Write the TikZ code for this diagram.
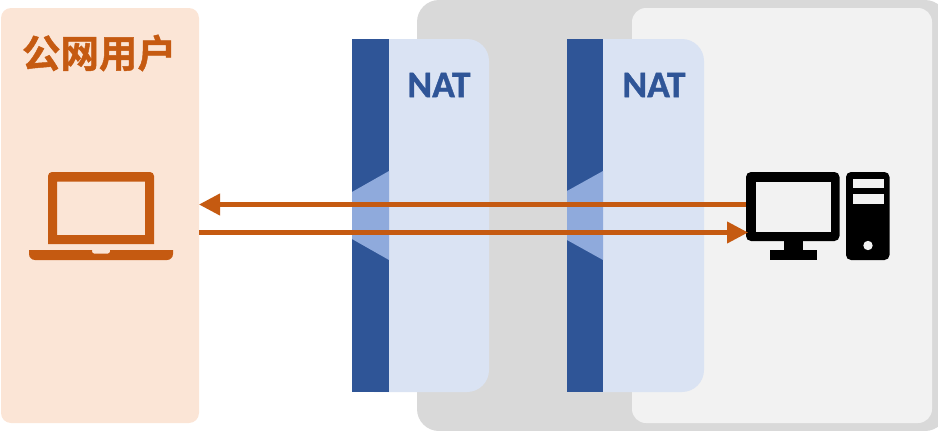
\documentclass[tikz,border=0pt]{standalone}
\usepackage{fontspec}
\setmainfont{Carlito}
\newfontfamily\cjkbold[FakeBold=1.2]{Noto Sans CJK SC Bold}
\newfontfamily\natfont[FakeBold=1]{Carlito Bold}
\usetikzlibrary{arrows.meta}
\definecolor{orangeC}{HTML}{C55A11}
\definecolor{peachC}{HTML}{FBE5D6}
\definecolor{darkC}{HTML}{2F5597}
\definecolor{natC}{HTML}{DAE3F3}
\definecolor{wedgeC}{HTML}{8FAADC}
\definecolor{grayC}{HTML}{D9D9D9}
\definecolor{lightC}{HTML}{F2F2F2}
\tikzset{
  panel/.style={anchor=north west,inner sep=0pt,outer sep=0pt,draw=none},
  natpanel/.style={panel,fill=natC,rounded corners=22pt,minimum width=137pt,minimum height=353pt},
  natbar/.style={panel,fill=darkC,minimum height=353pt},
  nattext/.style={text=darkC,font=\natfont\fontsize{37.5}{37.5}\selectfont,inner sep=0pt},
  flow/.style={draw=orangeC,line width=4.2pt,-{Triangle[length=21pt,width=21pt]}},
}
\begin{document}
\begin{tikzpicture}[x=1pt,y=-1pt]
\useasboundingbox (0,0) rectangle (938,431);
% panels
\node[panel,fill=grayC,rounded corners=22pt,minimum width=530pt,minimum height=431pt] (inner) at (417,0) {};
\fill[white] (938,0) rectangle (947,431);
\node[panel,fill=lightC,rounded corners=14pt,minimum width=300pt,minimum height=415pt] (host) at (632,8) {};
\node[panel,fill=peachC,rounded corners=10pt,minimum width=198pt,minimum height=415pt] (user) at (1,8) {};
\node[text=orangeC,font=\cjkbold\fontsize{38.5}{38.5}\selectfont,inner sep=0pt] (usertitle) at (99,53) {公网用户};
% first NAT
\node[natpanel] (nat1) at (352,39) {};
\node[natbar,minimum width=37pt] (bar1) at (352,39) {};
\fill[wedgeC] (352,192) -- (389,171) -- (389,260) -- (352,239) -- cycle;
\node[nattext] (nat1label) at (439,85) {NAT};
% second NAT
\node[natpanel] (nat2) at (567,39) {};
\node[natbar,minimum width=36pt] (bar2) at (567,39) {};
\fill[wedgeC] (567,191) -- (603,171) -- (603,260) -- (567,240) -- cycle;
\node[nattext] (nat2label) at (654,85) {NAT};
% laptop
\fill[orangeC,even odd rule]
  (48,244) -- (48,176) arc[start angle=180,end angle=270,radius=4] -- (150,172) arc[start angle=270,end angle=360,radius=4] -- (154,244) -- cycle
  (57,181.5) rectangle (145,235);
\fill[orangeC] (29,250) -- (92,250) -- (92,251.5) arc[start angle=180,end angle=90,radius=2] -- (108,253.5) arc[start angle=90,end angle=0,radius=2] -- (110,250) -- (173,250) -- (173,254) arc[start angle=0,end angle=90,radius=6] -- (35,260) arc[start angle=90,end angle=180,radius=6] -- cycle;
% computer
\node[panel,fill=black,rounded corners=5pt,minimum width=93.5pt,minimum height=69pt] (monitor) at (746,172) {};
\node[panel,fill=lightC,minimum width=75pt,minimum height=50pt] (screen) at (755.5,181.5) {};
\fill[black] (783.5,241) rectangle (802.5,250);
\fill[black] (769.5,250) rectangle (816.5,260);
\node[panel,fill=black,rounded corners=5pt,minimum width=43.5pt,minimum height=88pt] (tower) at (846,172) {};
\node[panel,fill=lightC,minimum width=31pt,minimum height=9.5pt] (slot1) at (852.5,178.5) {};
\node[panel,fill=lightC,minimum width=31pt,minimum height=9.5pt] (slot2) at (852.5,194) {};
\fill[lightC] (868,245.5) circle[radius=4.7];
% connectors
\draw[flow] (monitor.west |- 0,204.5) -- (user.east |- 0,204.5);
\draw[flow] (user.east |- 0,232.5) -- ([xshift=2pt]monitor.west |- 0,232.5);
\end{tikzpicture}
\end{document}
